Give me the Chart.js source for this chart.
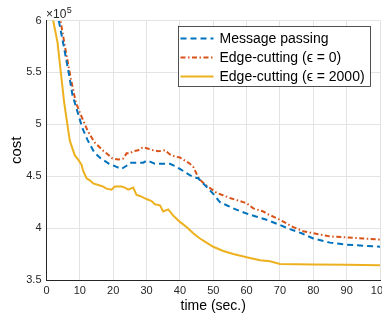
<!DOCTYPE html>
<html>
<head>
<meta charset="utf-8">
<script src="https://cdn.jsdelivr.net/npm/chart.js@4.4.0/dist/chart.umd.min.js"></script>
<style>
  html, body { margin: 0; padding: 0; background: #fff; overflow: hidden; width: 382px; height: 321px; }
  #wrap { width: 400px; height: 321px; }
</style>
</head>
<body>
<div id="wrap"><canvas id="c" width="400" height="321"></canvas></div>
<script>
// ---- data (cost in units of 1e5) ----
const seriesNames = ['Message passing', 'Edge-cutting (\u03F5 = 0)', 'Edge-cutting (\u03F5 = 2000)'];

const mpTime = [2, 3.8, 5.3, 6.8, 7.8, 9.3, 10.8, 12.3, 14.3, 16.3, 18.8, 21, 22.5, 24, 25, 27, 29, 30, 31, 32.5, 34, 36, 37, 39, 40, 42, 44, 45.5, 47, 48.5, 50, 52, 54, 56, 60, 63, 66, 70, 73, 76.5, 80, 85, 90, 95, 100];
const mpCost = [6.28, 5.98, 5.73, 5.47, 5.28, 5.12, 4.96, 4.85, 4.73, 4.67, 4.62, 4.59, 4.57, 4.60, 4.63, 4.63, 4.63, 4.65, 4.64, 4.62, 4.62, 4.62, 4.62, 4.59, 4.57, 4.53, 4.49, 4.48, 4.43, 4.38, 4.33, 4.25, 4.22, 4.19, 4.14, 4.11, 4.08, 4.03, 3.99, 3.95, 3.90, 3.86, 3.84, 3.83, 3.82];

const ec0Time = [2.5, 4.3, 5.8, 7.3, 8.8, 10.3, 12.3, 14.3, 16.8, 18, 19.8, 21.5, 23, 24, 25, 26, 27.5, 29, 30, 31, 32, 33.5, 35.5, 37, 38.5, 40, 41.5, 43, 44, 45.5, 46.5, 48, 51, 55, 59, 60, 62, 65, 66, 70, 74, 77, 80, 85, 90, 95, 100];
const ec0Cost = [6.28, 5.98, 5.70, 5.44, 5.21, 5.09, 4.94, 4.83, 4.75, 4.72, 4.67, 4.66, 4.67, 4.72, 4.72, 4.74, 4.75, 4.78, 4.77, 4.76, 4.75, 4.74, 4.75, 4.71, 4.69, 4.68, 4.65, 4.62, 4.59, 4.49, 4.45, 4.41, 4.34, 4.29, 4.25, 4.24, 4.19, 4.16, 4.14, 4.08, 4.01, 3.97, 3.95, 3.92, 3.91, 3.90, 3.89];

const ec2000Time = [1, 2, 3.3, 4.3, 5.3, 6.3, 7, 8.5, 9.5, 10.5, 11, 12, 13, 14, 16, 17, 18, 19.5, 20.5, 22.5, 23.5, 24.5, 26, 27, 28, 30, 31.5, 32.5, 34, 35, 36.5, 38, 39, 40, 42, 44, 46, 47.5, 50, 53, 56, 60, 64, 67, 70, 80, 90, 100];
const ec2000Cost = [6.25, 6.0, 5.79, 5.5, 5.21, 4.99, 4.84, 4.70, 4.66, 4.61, 4.55, 4.48, 4.46, 4.43, 4.41, 4.40, 4.38, 4.37, 4.40, 4.40, 4.39, 4.37, 4.39, 4.32, 4.31, 4.28, 4.26, 4.23, 4.22, 4.16, 4.18, 4.12, 4.09, 4.06, 4.01, 3.95, 3.90, 3.87, 3.82, 3.78, 3.75, 3.72, 3.69, 3.68, 3.655, 3.65, 3.648, 3.643];

const xTicks = [0, 10, 20, 30, 40, 50, 60, 70, 80, 90, 100];
const yTicks = [3.5, 4, 4.5, 5, 5.5, 6];
const yTickLabels = ['3.5', '4', '4.5', '5', '5.5', '6'];

const colors = ['#0072BD', '#D95319', '#EDB120'];
const dashes = [[6, 4], [5, 2.5, 1.5, 2.5], []];

const pts = (xs, ys) => xs.map((x, i) => ({ x: x, y: ys[i] }));
const FONT = '"Liberation Sans", Arial, Helvetica, sans-serif';
const TXT = '#262626';

const legendPlugin = {
  id: 'insideLegend',
  afterDraw(chart) {
    const ctx = chart.ctx;
    ctx.save();
    // scale factor text x10^5
    ctx.fillStyle = TXT;
    ctx.textBaseline = 'alphabetic';
    ctx.textAlign = 'left';
    ctx.font = '12px ' + FONT;
    ctx.fillText('\u00D710', 46, 17.5);
    const w = ctx.measureText('\u00D710').width;
    ctx.font = '9px ' + FONT;
    ctx.fillText('5', 46 + w + 0.5, 12.5);

    // legend box
    const bx = 178.5, by = 26.5, bw = 192, bh = 60;
    ctx.fillStyle = '#ffffff';
    ctx.fillRect(bx, by, bw, bh);
    ctx.strokeStyle = '#262626';
    ctx.lineWidth = 0.8;
    ctx.strokeRect(bx, by, bw, bh);
    const rows = [38.5, 57.5, 76.5];
    chart.data.datasets.forEach((ds, i) => {
      ctx.beginPath();
      ctx.setLineDash(ds.borderDash || []);
      ctx.strokeStyle = ds.borderColor;
      ctx.lineWidth = ds.borderWidth;
      ctx.moveTo(180.5, rows[i]);
      ctx.lineTo(213.5, rows[i]);
      ctx.stroke();
      ctx.setLineDash([]);
      ctx.fillStyle = '#000';
      ctx.font = '14px ' + FONT;
      ctx.textBaseline = 'middle';
      ctx.fillText(ds.label, 219.5, rows[i] + 0.5);
    });
    ctx.restore();
  }
};

new Chart(document.getElementById('c'), {
  type: 'line',
  data: {
    datasets: [
      { label: seriesNames[0], data: pts(mpTime, mpCost), borderColor: colors[0], borderDash: dashes[0], borderWidth: 2 },
      { label: seriesNames[1], data: pts(ec0Time, ec0Cost), borderColor: colors[1], borderDash: dashes[1], borderWidth: 2 },
      { label: seriesNames[2], data: pts(ec2000Time, ec2000Cost), borderColor: colors[2], borderDash: dashes[2], borderWidth: 2 }
    ]
  },
  options: {
    responsive: false,
    animation: false,
    devicePixelRatio: 1,
    layout: { padding: { top: 20.5, right: 20, left: 0, bottom: 0 } },
    elements: { point: { radius: 0 }, line: { tension: 0, fill: false } },
    plugins: { legend: { display: false }, tooltip: { enabled: false } },
    scales: {
      x: {
        type: 'linear', min: 0, max: 100,
        afterBuildTicks: s => { s.ticks = xTicks.map(v => ({ value: v })); },
        afterFit: s => { s.height = 41; },
        ticks: { color: TXT, font: { family: FONT, size: 11 }, padding: 4, maxRotation: 0, autoSkip: false },
        grid: { color: '#e3e3e3', lineWidth: 1, drawTicks: false },
        border: { color: '#262626', width: 1 },
        title: { display: true, text: 'time (sec.)', color: '#000', font: { family: FONT, size: 14 }, padding: { top: 0, bottom: 6 } }
      },
      y: {
        type: 'linear', min: 3.5, max: 6,
        afterBuildTicks: s => { s.ticks = yTicks.map(v => ({ value: v })); },
        afterFit: s => { s.width = 46.5; },
        ticks: { color: TXT, font: { family: FONT, size: 11 }, padding: 5, autoSkip: false,
                 callback: (v) => { const i = yTicks.indexOf(v); return i >= 0 ? yTickLabels[i] : ''; } },
        grid: { color: '#e3e3e3', lineWidth: 1, drawTicks: false },
        border: { color: '#262626', width: 1 },
        title: { display: true, text: 'cost', color: '#000', font: { family: FONT, size: 15 }, padding: { top: 8, bottom: 0 } }
      }
    }
  },
  plugins: [legendPlugin]
});
</script>
</body>
</html>
